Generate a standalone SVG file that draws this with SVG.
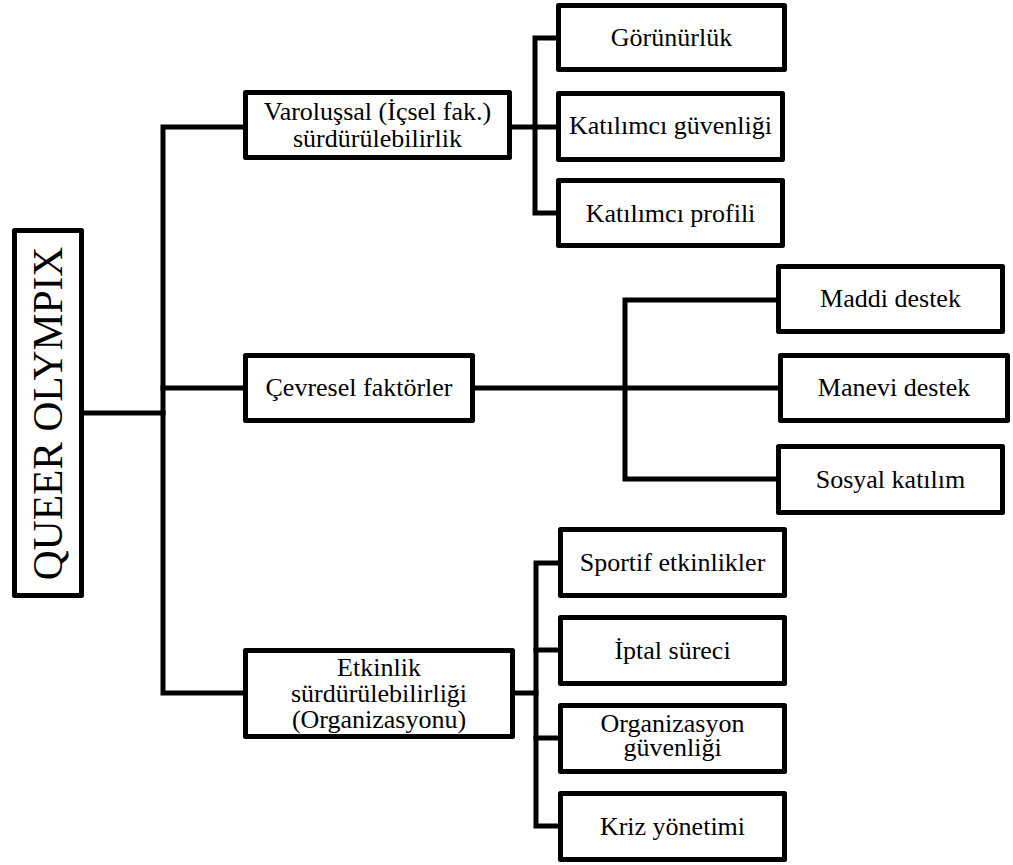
<svg xmlns="http://www.w3.org/2000/svg" width="1013" height="865" viewBox="0 0 1013 865" font-family="'Liberation Serif', 'Times New Roman', serif">
  <style>
    .box { fill: #ffffff; stroke: #000000; stroke-width: 5; stroke-linejoin: round; }
    .link { fill: none; stroke: #000000; stroke-width: 5; stroke-linejoin: miter; stroke-linecap: square; }
    text { font-family: 'Liberation Serif', 'Times New Roman', serif; fill: #000000; text-anchor: middle; }
  </style>
  <rect width="1013" height="865" fill="#ffffff"/>

  <!-- connectors -->
  <g id="connectors">
    <!-- root to main trunk -->
    <path class="link" d="M82 413 H163"/>
    <path class="link" d="M245 127 H163 V693 H245"/>
    <path class="link" d="M163 388 H245"/>
    <!-- existential branch -->
    <path class="link" d="M510 127 H558"/>
    <path class="link" d="M558 38 H535 V213 H558"/>
    <!-- environmental branch -->
    <path class="link" d="M473 388 H778"/>
    <path class="link" d="M778 300 H625 V479 H778"/>
    <!-- event branch -->
    <path class="link" d="M513 693 H536"/>
    <path class="link" d="M560 563 H536 V826 H560"/>
    <path class="link" d="M536 650 H560"/>
    <path class="link" d="M536 738 H560"/>
  </g>

  <!-- root -->
  <g id="root">
    <rect class="box" x="14.5" y="230.5" width="67" height="365"/>
    <text font-family="'Liberation Serif', serif" font-size="41.5" transform="translate(62 413.5) rotate(-90)" x="0" y="0">QUEER OLYMPIX</text>
  </g>

  <!-- level one -->
  <g id="varolussal" font-size="26">
    <rect class="box" x="245.5" y="92.5" width="264" height="65"/>
    <text font-family="'Liberation Serif', serif" x="377.5" y="120">Varoluşsal (İçsel fak.)</text>
    <text font-family="'Liberation Serif', serif" x="377.5" y="147">sürdürülebilirlik</text>
  </g>
  <g id="cevresel" font-size="26">
    <rect class="box" x="245.5" y="355.5" width="227" height="65"/>
    <text font-family="'Liberation Serif', serif" x="359" y="396">Çevresel faktörler</text>
  </g>
  <g id="etkinlik" font-size="26">
    <rect class="box" x="245.5" y="650.5" width="267" height="86"/>
    <text font-family="'Liberation Serif', serif" x="379" y="676">Etkinlik</text>
    <text font-family="'Liberation Serif', serif" x="379" y="702">sürdürülebilirliği</text>
    <text font-family="'Liberation Serif', serif" x="379" y="728">(Organizasyonu)</text>
  </g>

  <!-- existential children -->
  <g id="gorunurluk" font-size="26">
    <rect class="box" x="558.5" y="5.5" width="226" height="64"/>
    <text font-family="'Liberation Serif', serif" x="671.5" y="46">Görünürlük</text>
  </g>
  <g id="katilimci-guvenligi" font-size="26">
    <rect class="box" x="558.5" y="93.5" width="224" height="66"/>
    <text font-family="'Liberation Serif', serif" x="670.5" y="134">Katılımcı güvenliği</text>
  </g>
  <g id="katilimci-profili" font-size="26">
    <rect class="box" x="558.5" y="180.5" width="224" height="65"/>
    <text font-family="'Liberation Serif', serif" x="670.5" y="222">Katılımcı profili</text>
  </g>

  <!-- environmental children -->
  <g id="maddi-destek" font-size="26">
    <rect class="box" x="778.5" y="266.5" width="224" height="65"/>
    <text font-family="'Liberation Serif', serif" x="890.5" y="307">Maddi destek</text>
  </g>
  <g id="manevi-destek" font-size="26">
    <rect class="box" x="780.5" y="355.5" width="227" height="65"/>
    <text font-family="'Liberation Serif', serif" x="894" y="396">Manevi destek</text>
  </g>
  <g id="sosyal-katilim" font-size="26">
    <rect class="box" x="778.5" y="446.5" width="224" height="66"/>
    <text font-family="'Liberation Serif', serif" x="890.5" y="488">Sosyal katılım</text>
  </g>

  <!-- event children -->
  <g id="sportif" font-size="26">
    <rect class="box" x="560.5" y="529.5" width="224" height="66"/>
    <text font-family="'Liberation Serif', serif" x="672.5" y="571">Sportif etkinlikler</text>
  </g>
  <g id="iptal" font-size="26">
    <rect class="box" x="560.5" y="617.5" width="224" height="66"/>
    <text font-family="'Liberation Serif', serif" x="672.5" y="659">İptal süreci</text>
  </g>
  <g id="organizasyon-guvenligi" font-size="26">
    <rect class="box" x="560.5" y="705.5" width="224" height="66"/>
    <text font-family="'Liberation Serif', serif" x="672.5" y="732">Organizasyon</text>
    <text font-family="'Liberation Serif', serif" x="672.5" y="756">güvenliği</text>
  </g>
  <g id="kriz" font-size="26">
    <rect class="box" x="560.5" y="793.5" width="224" height="66"/>
    <text font-family="'Liberation Serif', serif" x="672.5" y="835">Kriz yönetimi</text>
  </g>
</svg>
